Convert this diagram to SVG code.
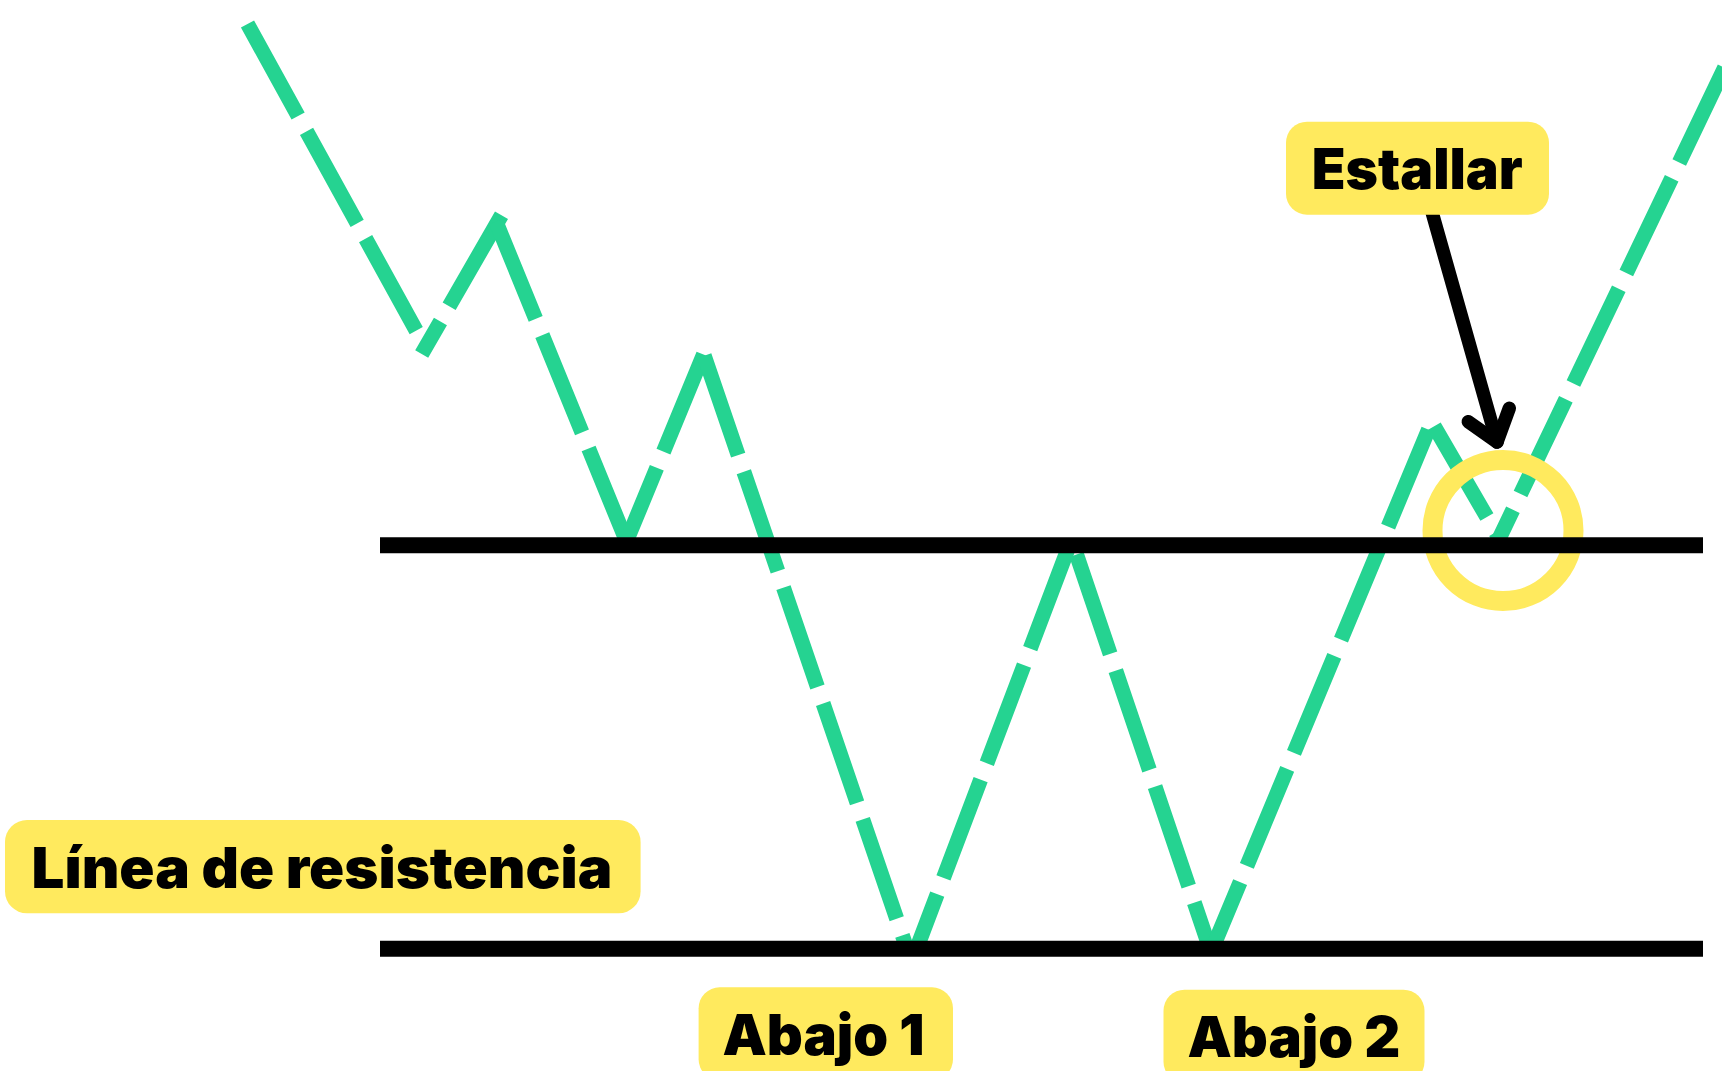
<svg xmlns="http://www.w3.org/2000/svg" width="1722" height="1071" viewBox="0 0 1722 1071">
  <style>
    .seg { stroke: #25D391; stroke-width: 15; stroke-dasharray: 105 17.5; stroke-linecap: butt; fill: none; }
    .level { stroke: #000000; stroke-width: 16; }
    .tag { fill: #FFEA5E; }
    .lbl { font-family: "Inter", "Liberation Sans", sans-serif; font-weight: 900; font-size: 56px; fill: #000000; }
    .arrow { stroke: #000000; stroke-width: 13.5; fill: none; stroke-linecap: round; stroke-linejoin: round; }
  </style>
  <rect width="1722" height="1071" fill="#ffffff"/>
  <g id="price-path">
    <line class="seg" x1="247.5" y1="24" x2="423.9" y2="344.6"/>
    <line class="seg" x1="501.5" y1="215.2" x2="421.7" y2="354"/>
    <line class="seg" x1="496" y1="221.7" x2="628" y2="545"/>
    <line class="seg" x1="703.5" y1="354.5" x2="627" y2="540"/>
    <line class="seg" x1="704.2" y1="355.8" x2="906" y2="946"/>
    <line class="seg" x1="1067.4" y1="550.5" x2="916.5" y2="949"/>
    <line class="seg" x1="1076.5" y1="554.5" x2="1211" y2="952"/>
    <line class="seg" x1="1428.5" y1="429.7" x2="1211" y2="952"/>
    <line class="seg" x1="1434.2" y1="426.3" x2="1498" y2="536.2"/>
    <line class="seg" x1="1724.6" y1="67.8" x2="1495.6" y2="545.9"/>
  </g>
  <g id="breakout-circle">
    <circle cx="1503" cy="530.5" r="70.5" fill="none" stroke="#FFEA5E" stroke-width="20"/>
  </g>
  <g id="levels">
    <line class="level" x1="380" y1="545.3" x2="1703" y2="545.3"/>
    <line class="level" x1="380" y1="948.8" x2="1703" y2="948.8"/>
  </g>
  <g id="connectors">
    <path class="arrow" d="M1430,205 L1497,442"/>
    <path class="arrow" d="M1468.3,421.7 L1497,442 L1509.3,408.3"/>
  </g>
  <g id="label-estallar">
    <rect class="tag" x="1286" y="121.7" width="263" height="93" rx="21"/>
    <text class="lbl" x="1311.7" y="189" textLength="211" lengthAdjust="spacingAndGlyphs">Estallar</text>
  </g>
  <g id="label-linea">
    <rect class="tag" x="5" y="820" width="635.6" height="93.3" rx="22"/>
    <text class="lbl" x="31.6" y="888.3" textLength="580.8" lengthAdjust="spacingAndGlyphs">Línea de resistencia</text>
  </g>
  <g id="label-abajo1">
    <rect class="tag" x="698.6" y="987.3" width="254.4" height="93" rx="21"/>
    <text class="lbl" x="722.5" y="1055" textLength="202" lengthAdjust="spacingAndGlyphs">Abajo 1</text>
  </g>
  <g id="label-abajo2">
    <rect class="tag" x="1163.5" y="989.7" width="261" height="93" rx="21"/>
    <text class="lbl" x="1187.4" y="1056.7" textLength="213" lengthAdjust="spacingAndGlyphs">Abajo 2</text>
  </g>
</svg>
